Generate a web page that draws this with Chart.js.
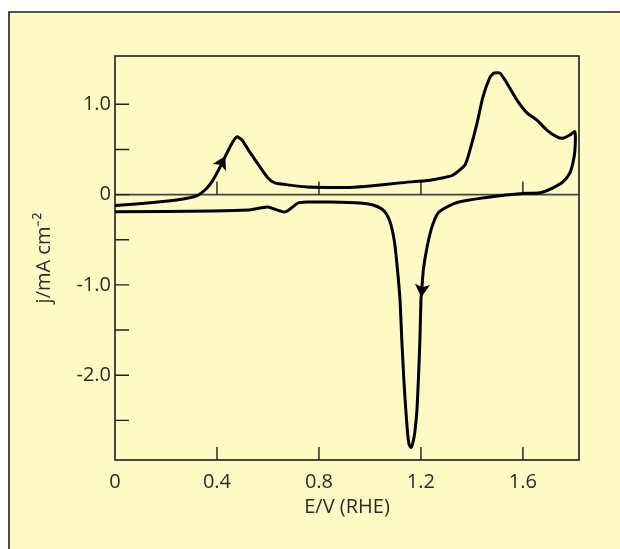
<!DOCTYPE html>
<html><head><meta charset="utf-8">
<script src="https://cdn.jsdelivr.net/npm/chart.js@4"></script>
<style>html,body{margin:0;padding:0;background:#fff;}#c{display:block;}</style>
</head><body>
<canvas id="c" width="620" height="549"></canvas>
<script>
// Anodic (forward) sweep: potential E (V vs RHE) and current density j (mA cm^-2)
const forwardE = [0,0.14,0.255,0.32,0.36,0.384,0.412,0.431,0.459,0.478,0.498,0.529,0.569,0.6,0.627,0.686,0.753,0.843,0.92,1.0,1.118,1.235,1.275,1.325,1.373,1.392,1.42,1.443,1.471,1.486,1.51,1.537,1.576,1.616,1.655,1.694,1.733,1.757,1.784,1.804];
const forwardJ = [-0.12,-0.09,-0.055,-0.015,0.07,0.16,0.305,0.415,0.57,0.64,0.605,0.47,0.305,0.185,0.13,0.105,0.085,0.08,0.08,0.095,0.13,0.16,0.18,0.215,0.33,0.49,0.79,1.08,1.30,1.345,1.345,1.235,1.05,0.905,0.825,0.715,0.64,0.625,0.66,0.695];
// Cathodic (reverse) sweep
const reverseE = [1.804,1.796,1.784,1.757,1.718,1.667,1.6,1.471,1.353,1.302,1.267,1.243,1.224,1.21,1.204,1.2,1.196,1.19,1.184,1.176,1.169,1.161,1.153,1.147,1.14,1.133,1.125,1.118,1.108,1.096,1.082,1.066,1.047,1.012,0.961,0.843,0.753,0.718,0.667,0.6,0.569,0.522,0.384,0];
const reverseJ = [0.49,0.35,0.24,0.14,0.075,0.02,0.012,-0.027,-0.08,-0.137,-0.204,-0.36,-0.583,-0.82,-1.024,-1.17,-1.61,-2.05,-2.40,-2.63,-2.74,-2.80,-2.76,-2.62,-2.36,-2.05,-1.61,-1.17,-0.83,-0.52,-0.33,-0.22,-0.16,-0.115,-0.093,-0.082,-0.082,-0.093,-0.193,-0.137,-0.149,-0.171,-0.182,-0.19];
// Sweep-direction arrows (positions on the curve)
const arrowE = [0.42, 1.204];
const arrowJ = [0.36, -1.06];
// Tick values
const xTicks = [0, 0.4, 0.8, 1.2, 1.6];
const yTicks = [-2, -1, 0, 1];
const yMinorTicks = [-2.5, -1.5, -0.5, 0.5];
const xTickLabels = ['0', '0.4', '0.8', '1.2', '1.6'];
const yTickLabels = ['-2.0', '-1.0', '0', '1.0'];

const loop = forwardE.map((e,i)=>({x:e,y:forwardJ[i]})).concat(reverseE.map((e,i)=>({x:e,y:reverseJ[i]})));

const YELLOW = '#fff9c3';
const INK = '#1e1e1e';
const TXT = '#2b2b2b';
const FONT = {family:'"Open Sans"',size:20};

const framePlugin = {
  id:'frame',
  beforeDraw(chart){
    const ctx = chart.ctx;
    ctx.save();
    ctx.fillStyle = '#ffffff';
    ctx.fillRect(0,0,chart.width,chart.height);
    ctx.fillStyle = YELLOW;
    ctx.fillRect(9,12,chart.width-9,chart.height-12);
    ctx.strokeStyle = INK; ctx.lineWidth = 1.6;
    ctx.beginPath();
    ctx.moveTo(9,chart.height); ctx.lineTo(9,12); ctx.lineTo(chart.width,12);
    ctx.stroke();
    ctx.restore();
  },
  beforeDatasetsDraw(chart){
    const ctx = chart.ctx, a = chart.chartArea;
    const xs = chart.scales.x, ys = chart.scales.y;
    ctx.save();
    const y0 = ys.getPixelForValue(0);
    ctx.strokeStyle = '#45453a'; ctx.lineWidth = 1.8;
    ctx.beginPath(); ctx.moveTo(a.left,y0); ctx.lineTo(a.right,y0); ctx.stroke();
    ctx.strokeStyle = INK; ctx.lineWidth = 1.4;
    ctx.beginPath();
    yTicks.concat(yMinorTicks).forEach(v=>{
      const p = ys.getPixelForValue(v);
      ctx.moveTo(a.left,p); ctx.lineTo(a.left+14,p);
    });
    xTicks.forEach(v=>{
      if (v===0) return;
      const p = xs.getPixelForValue(v);
      ctx.moveTo(p,a.bottom); ctx.lineTo(p,a.bottom-13);
      ctx.moveTo(p,y0); ctx.lineTo(p,y0-13);
    });
    ctx.stroke();
    ctx.lineWidth = 1.6;
    ctx.strokeRect(a.left,a.top,a.right-a.left,a.bottom-a.top);
    ctx.restore();
  },
  afterDatasetsDraw(chart){
    const ctx = chart.ctx;
    const xs = chart.scales.x, ys = chart.scales.y;
    const pts = loop.map(p=>({x:xs.getPixelForValue(p.x),y:ys.getPixelForValue(p.y)}));
    ctx.save();
    ctx.fillStyle = '#000';
    arrowE.forEach((e,k)=>{
      const px = xs.getPixelForValue(e), py = ys.getPixelForValue(arrowJ[k]);
      let best=0,bd=1e9;
      pts.forEach((p,i)=>{const d=(p.x-px)**2+(p.y-py)**2; if(d<bd){bd=d;best=i;}});
      const i0 = Math.max(0,best-1), i1 = Math.min(pts.length-1,best+1);
      let dx = pts[i1].x-pts[i0].x, dy = pts[i1].y-pts[i0].y;
      const L = Math.hypot(dx,dy); dx/=L; dy/=L;
      const nx=-dy, ny=dx;
      ctx.beginPath();
      ctx.moveTo(px+dx*7, py+dy*7);
      ctx.lineTo(px-dx*6+nx*7.5, py-dy*6+ny*7.5);
      ctx.lineTo(px-dx*3, py-dy*3);
      ctx.lineTo(px-dx*6-nx*7.5, py-dy*6-ny*7.5);
      ctx.closePath();
      ctx.fill();
    });
    ctx.restore();
  }
};

new Chart(document.getElementById('c'), {
  type:'scatter',
  data:{datasets:[{data:loop, showLine:true, borderColor:'#000', borderWidth:3, pointRadius:0, tension:0.2, fill:false, borderJoinStyle:'round', borderCapStyle:'round'}]},
  options:{
    responsive:false, animation:false, devicePixelRatio:1,
    layout:{padding:{left:0,top:56,right:41,bottom:0}},
    plugins:{legend:{display:false},tooltip:{enabled:false}},
    scales:{
      x:{type:'linear',min:0,max:1.82,
        afterFit(s){s.height=89;},
        afterBuildTicks(s){s.ticks = xTicks.map(v=>({value:v}));},
        grid:{display:false,drawTicks:false}, border:{display:false},
        ticks:{padding:10,color:TXT,font:FONT,maxRotation:0,autoSkip:false,
          callback:(v)=>xTickLabels[xTicks.indexOf(v)] ?? ''},
        title:{display:true,text:'E/V (RHE)',color:TXT,font:FONT,padding:{top:0,bottom:30}}
      },
      y:{type:'linear',min:-2.939,max:1.535,
        afterFit(s){s.width=115;},
        afterBuildTicks(s){s.ticks = yTicks.map(v=>({value:v}));},
        grid:{display:false,drawTicks:false}, border:{display:false},
        ticks:{padding:4,color:TXT,font:FONT,autoSkip:false,
          callback:(v)=>yTickLabels[yTicks.indexOf(v)] ?? ''},
        title:{display:true,text:'j/mA cm⁻²',color:TXT,font:FONT,padding:{top:32,bottom:0}}
      }
    }
  },
  plugins:[framePlugin]
});
</script>
</body></html>
